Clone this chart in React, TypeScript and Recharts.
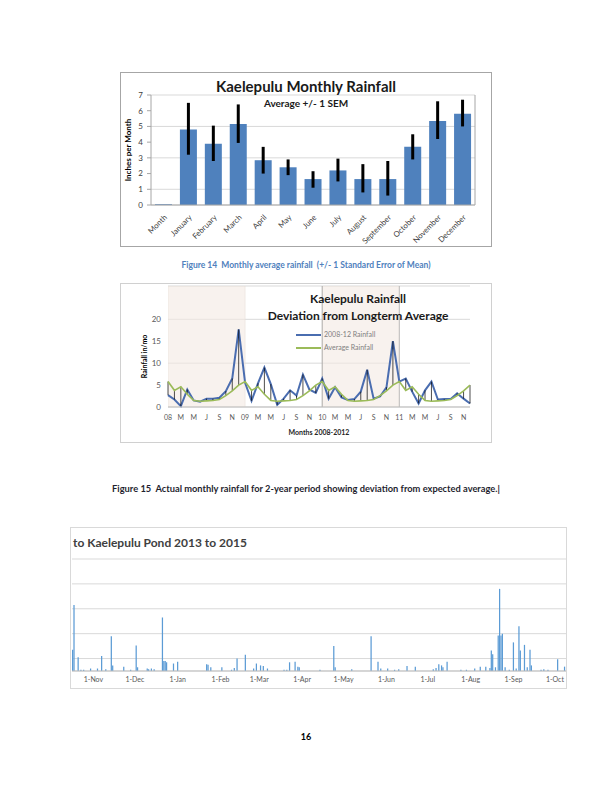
import React from "react";
import {
  BarChart,
  Bar,
  LineChart,
  Line,
  XAxis,
  YAxis,
  CartesianGrid,
  ErrorBar,
  ReferenceArea,
  ReferenceLine,
} from "recharts";

// ---- Figure 14: monthly average rainfall +/- 1 SEM ----
const months = [
  "Month", "January", "February", "March", "April", "May", "June",
  "July", "August", "September", "October", "November", "December",
];
const monthlyMean = [0.05, 4.8, 3.9, 5.15, 2.85, 2.4, 1.65, 2.2, 1.65, 1.65, 3.7, 5.35, 5.8];
const semLow = [0.05, 3.2, 2.8, 3.95, 2.0, 1.9, 1.1, 1.5, 0.8, 0.6, 2.9, 4.2, 5.0];
const semHigh = [0.05, 6.5, 5.05, 6.4, 3.7, 2.9, 2.15, 2.95, 2.6, 2.8, 4.5, 6.6, 6.7];
const inchTicks = [0, 1, 2, 3, 4, 5, 6, 7];

// ---- Figure 15: monthly rainfall 2008-2011 vs long-term average ----
const rainfall0812 = [
  2.7, 1.7, 0.2, 4.0, 1.5, 1.2, 1.9, 1.9, 2.1, 3.6, 6.5, 17.7,
  5.5, 1.4, 5.4, 9.0, 5.2, 0.5, 1.9, 3.8, 2.6, 7.4, 4.0, 3.2,
  6.5, 1.9, 4.5, 2.2, 1.6, 1.8, 3.5, 8.5, 1.9, 2.4, 4.5, 15.0,
  5.8, 6.5, 3.5, 0.8, 3.8, 5.8, 1.7, 1.8, 1.8, 3.1, 1.9, 0.8,
];
const avgRainfall = [
  5.8, 3.8, 4.6, 2.9, 1.5, 1.3, 1.4, 1.5, 1.7, 2.6, 3.7, 5.0,
  5.8, 3.8, 4.6, 2.9, 1.5, 1.3, 1.4, 1.5, 1.7, 2.6, 3.7, 5.0,
  5.8, 3.8, 4.6, 2.9, 1.5, 1.3, 1.4, 1.5, 1.7, 2.6, 3.7, 5.0,
  5.8, 3.8, 4.6, 2.9, 1.5, 1.3, 1.4, 1.5, 1.7, 2.6, 3.7, 5.0,
];
const monthTickLabels = [
  "08", "M", "M", "J", "S", "N", "09", "M", "M", "J", "S", "N",
  "10", "M", "M", "J", "S", "N", "11", "M", "M", "J", "S", "N",
];
const rainTicks = [0, 5, 10, 15, 20];
const shadedYears = [
  [0, 12],
  [24, 36],
];

// ---- Daily rainfall to Kaelepulu Pond (day 0 = 17 Oct) ----
const rainDay = [
  0, 1, 4, 6, 8, 13, 18, 21, 24, 28, 29, 37, 42, 46, 47, 54, 55, 57, 59,
  65, 66, 67, 68, 73, 76, 97, 98, 100, 108, 115, 117, 119, 125,
  131, 133, 136, 138, 141, 153, 155, 157, 161, 163, 164, 179, 189, 190,
  202, 216, 221, 223, 228, 233, 236, 242, 248, 261, 263, 265, 267, 268,
  271, 281, 285, 291, 295, 299, 302, 303, 304, 306, 308, 309, 310, 311,
  313, 316, 319, 321, 323, 324, 327, 329, 331, 332, 339, 341, 344, 351, 356,
];
const rainAmount = [
  1.7, 5.3, 1.1, 0.1, 0.1, 0.2, 0.2, 1.2, 0.15, 2.8, 0.45, 0.35, 0.1, 2.05, 0.3, 0.2, 0.15, 0.2, 0.15,
  4.3, 0.8, 0.8, 0.7, 0.6, 0.75, 0.55, 0.5, 0.3, 0.3, 0.1, 0.25, 1.0, 1.3,
  0.2, 0.6, 0.45, 0.4, 0.2, 0.1, 0.1, 0.7, 0.75, 0.35, 0.3, 0.1, 2.0, 0.3,
  0.15, 2.8, 0.75, 0.2, 0.2, 0.1, 0.15, 0.4, 0.35, 0.15, 0.25, 0.55, 0.45, 0.3,
  0.75, 0.1, 0.1, 0.2, 0.35, 0.35, 0.25, 1.65, 1.35, 0.3, 2.85, 6.6, 2.85, 3.0,
  0.3, 0.1, 2.3, 0.2, 3.6, 1.65, 2.1, 0.3, 1.7, 0.45, 0.1, 0.15, 0.1, 0.95, 0.35,
];
const dailyTickDays = [15, 45, 76, 107, 135, 166, 196, 227, 257, 288, 319, 349];
const dailyTickLabels = [
  "1-Nov", "1-Dec", "1-Jan", "1-Feb", "1-Mar", "1-Apr",
  "1-May", "1-Jun", "1-Jul", "1-Aug", "1-Sep", "1-Oct",
];
const gridTicks = [0, 1, 2, 3, 4, 5, 6, 7, 8, 9];

const font = 'Lato, "Liberation Sans", sans-serif';

const chart1Data = months.map((m, i) => ({
  month: m,
  mean: monthlyMean[i],
  sem: [monthlyMean[i] - semLow[i], semHigh[i] - monthlyMean[i]],
}));

const chart2Data = rainfall0812.map((v, i) => ({
  i,
  actual: v,
  avg: avgRainfall[i],
  dev: [Math.max(0, avgRainfall[i] - v), Math.max(0, v - avgRainfall[i])],
}));

const chart3Data = rainDay.map((d, i) => ({ day: d, rain: rainAmount[i] }));

function MonthTick(props: any) {
  const { x, y, payload } = props;
  const tx = x + 4;
  const ty = y + 5;
  return (
    <text
      x={tx}
      y={ty}
      textAnchor="end"
      transform={`rotate(-45 ${tx} ${ty})`}
      fontSize={7.8}
      fill="#404040"
      fontFamily={font}
    >
      {payload.value}
    </text>
  );
}

function MonthlyRainfall() {
  return (
    <div style={{ position: "absolute", left: 120, top: 72, width: 370, height: 173, border: "1px solid #a6a6a6" }}>
      <BarChart width={370} height={173} data={chart1Data} margin={{ top: 22, right: 0, left: 0, bottom: 0 }} barCategoryGap="16%">
        <CartesianGrid vertical={false} stroke="#d9d9d9" yAxisId="l" />
        <XAxis dataKey="month" height={41} interval={0} tick={<MonthTick />} tickLine={false} axisLine={{ stroke: "#a6a6a6" }} yAxisId="l" />
        <YAxis
          yAxisId="l"
          width={30}
          domain={[0, 7]}
          ticks={inchTicks}
          tick={{ fontSize: 8, fill: "#404040", fontFamily: font }}
          tickSize={4}
          tickMargin={4}
          axisLine={{ stroke: "#a6a6a6" }}
          tickLine={{ stroke: "#a6a6a6" }}
          label={{ value: "Inches per Month", angle: -90, position: "center", dx: -8, style: { fontSize: 8, fontWeight: 700, fill: "#000", fontFamily: font } }}
        />
        <YAxis
          yAxisId="r"
          orientation="right"
          width={16}
          domain={[0, 7]}
          ticks={inchTicks}
          tick={{ fontSize: 8, fill: "#404040", fontFamily: font }}
          tickSize={4}
          tickMargin={4}
          axisLine={{ stroke: "#a6a6a6" }}
          tickLine={{ stroke: "#a6a6a6" }}
        />
        <Bar yAxisId="l" dataKey="mean" fill="#4f81bd" isAnimationActive={false}>
          <ErrorBar dataKey="sem" width={0} stroke="#000" strokeWidth={3} direction="y" />
        </Bar>
      </BarChart>
      <div style={{ position: "absolute", left: 0, width: 370, top: 4, textAlign: "center", fontFamily: font, fontWeight: 700, fontSize: 15, color: "#1a1a1a" }}>
        Kaelepulu Monthly Rainfall
      </div>
      <div style={{ position: "absolute", left: 0, width: 370, top: 24, textAlign: "center", fontFamily: font, fontWeight: 700, fontSize: 10, color: "#1a1a1a" }}>
        Average +/- 1 SEM
      </div>
    </div>
  );
}

function DeviationChart() {
  return (
    <div style={{ position: "absolute", left: 120, top: 283, width: 370, height: 158, border: "1px solid #d0d0d0" }}>
      <LineChart width={370} height={158} data={chart2Data} margin={{ top: 2, right: 21, left: 0, bottom: 0 }}>
        <CartesianGrid vertical={false} stroke="#d9d9d9" />
        {shadedYears.map(([a, b]) => (
          <ReferenceArea key={a} x1={a} x2={b} y1={0} y2={27.6} fill="#f3e9e2" fillOpacity={0.6} stroke="#e6dcd5" strokeWidth={0.5} ifOverflow="hidden" />
        ))}
        <XAxis
          dataKey="i"
          type="number"
          domain={[0, 47]}
          ticks={monthTickLabels.map((_, k) => k * 2)}
          tickFormatter={(v: number) => monthTickLabels[v / 2]}
          interval={0}
          height={35}
          tickSize={0}
          tickMargin={8}
          tick={{ fontSize: 7, fill: "#595959", fontFamily: font }}
          axisLine={{ stroke: "#bfbfbf" }}
          label={{ value: "Months 2008-2012", position: "insideBottom", offset: 7, style: { fontSize: 7, fontWeight: 700, fill: "#262626", fontFamily: font } }}
        />
        <YAxis
          width={47}
          domain={[0, 27.6]}
          ticks={rainTicks}
          tickSize={0}
          tickMargin={7}
          axisLine={false}
          tick={{ fontSize: 8, fill: "#595959", fontFamily: font }}
          label={{ value: "Rainfall  in/mo", angle: -90, position: "center", dx: 0, dy: 10, style: { fontSize: 7, fontWeight: 700, fill: "#000", fontFamily: font } }}
        />
        <ReferenceLine x={24} stroke="#a0a0a0" strokeWidth={0.8} />
        <ReferenceLine x={36} stroke="#b0b0b0" strokeWidth={0.8} />
        <Line dataKey="actual" stroke="#4a6db0" strokeWidth={2} dot={false} isAnimationActive={false} />
        <Line dataKey="avg" stroke="#9bbb59" strokeWidth={1.6} dot={false} isAnimationActive={false}>
          <ErrorBar dataKey="dev" width={0} stroke="#000" strokeWidth={0.7} direction="y" />
        </Line>
      </LineChart>
      <div style={{ position: "absolute", left: 0, width: 474, top: 6, textAlign: "center", fontFamily: font, fontWeight: 700, fontSize: 12, color: "#1a1a1a", lineHeight: "17px" }}>
        Kaelepulu Rainfall
        <br />
        Deviation from Longterm Average
      </div>
      <div style={{ position: "absolute", left: 175, top: 44, fontFamily: font, fontSize: 7, color: "#7f7f7f", lineHeight: "13px" }}>
        <div style={{ display: "flex", alignItems: "center" }}>
          <span style={{ display: "inline-block", width: 25, height: 2, background: "#4a6db0", marginRight: 3 }} />
          2008-12 Rainfall
        </div>
        <div style={{ display: "flex", alignItems: "center" }}>
          <span style={{ display: "inline-block", width: 25, height: 2, background: "#9bbb59", marginRight: 3 }} />
          Average Rainfall
        </div>
      </div>
    </div>
  );
}

function DailyRainfall() {
  return (
    <div style={{ position: "absolute", left: 70, top: 527, width: 495, height: 160, border: "1px solid #d9d9d9" }}>
      <BarChart width={495} height={160} data={chart3Data} margin={{ top: 31, right: 0, left: 1, bottom: 0 }}>
        <CartesianGrid vertical={false} stroke="#d9d9d9" />
        <XAxis
          dataKey="day"
          type="number"
          domain={[-0.5, 357]}
          ticks={dailyTickDays}
          tickFormatter={(v: number) => dailyTickLabels[dailyTickDays.indexOf(v)]}
          interval={0}
          height={17}
          tickSize={0}
          tickMargin={6}
          tick={{ fontSize: 7, fill: "#595959", fontFamily: font }}
          axisLine={{ stroke: "#bfbfbf" }}
        />
        <YAxis hide domain={[0, 9]} ticks={gridTicks} />
        <Bar dataKey="rain" fill="#5b9bd5" barSize={1.6} isAnimationActive={false} />
      </BarChart>
      <div style={{ position: "absolute", left: 2, top: 7, fontFamily: font, fontWeight: 700, fontSize: 12, color: "#404040" }}>
        to Kaelepulu Pond 2013 to 2015
      </div>
    </div>
  );
}

export default function App() {
  return (
    <div style={{ position: "absolute", left: 0, top: 0, width: 612, height: 792, background: "#fff", fontFamily: font }}>
      <MonthlyRainfall />
      <div style={{ position: "absolute", left: 0, width: 612, top: 260, textAlign: "center", fontSize: 8.5, fontWeight: 700, color: "#4f81bd" }}>
        Figure 14&nbsp; Monthly average rainfall &nbsp;(+/- 1 Standard Error of Mean)
      </div>
      <DeviationChart />
      <div style={{ position: "absolute", left: 0, width: 612, top: 483, textAlign: "center", fontSize: 9.3, fontWeight: 700, color: "#1f1f2f" }}>
        Figure 15&nbsp; Actual monthly rainfall for 2-year period showing deviation from expected average.|
      </div>
      <DailyRainfall />
      <div style={{ position: "absolute", left: 0, width: 612, top: 731, textAlign: "center", fontSize: 9, fontWeight: 700, color: "#000" }}>
        16
      </div>
    </div>
  );
}
